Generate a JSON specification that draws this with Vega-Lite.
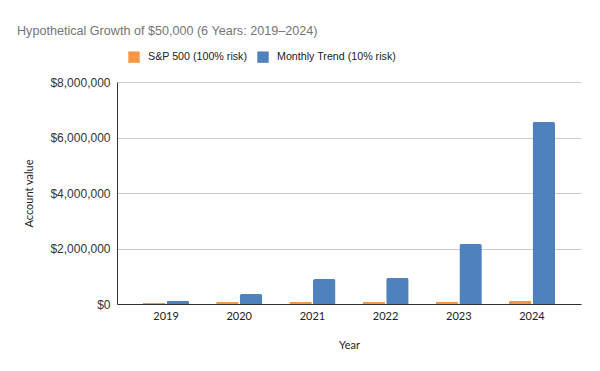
{
  "$schema": "https://vega.github.io/schema/vega-lite/v6.json",
  "width": 464,
  "height": 222,
  "autosize": {"type": "none"},
  "padding": {"left": 117, "top": 82, "right": 19, "bottom": 67},
  "background": "white",
  "title": {
    "text": "Hypothetical Growth of $50,000 (6 Years: 2019–2024)",
    "anchor": "start",
    "frame": "group",
    "dx": -100,
    "offset": 13,
    "font": "Liberation Sans",
    "fontSize": 12.6,
    "fontWeight": "normal",
    "color": "#757575"
  },
  "data": {
    "values": [
      {"year": "2019", "series": "S&P 500 (100% risk)", "value": 40000},
      {"year": "2019", "series": "Monthly Trend (10% risk)", "value": 110000},
      {"year": "2020", "series": "S&P 500 (100% risk)", "value": 78000},
      {"year": "2020", "series": "Monthly Trend (10% risk)", "value": 360000},
      {"year": "2021", "series": "S&P 500 (100% risk)", "value": 85000},
      {"year": "2021", "series": "Monthly Trend (10% risk)", "value": 900000},
      {"year": "2022", "series": "S&P 500 (100% risk)", "value": 82000},
      {"year": "2022", "series": "Monthly Trend (10% risk)", "value": 940000},
      {"year": "2023", "series": "S&P 500 (100% risk)", "value": 90000},
      {"year": "2023", "series": "Monthly Trend (10% risk)", "value": 2160000},
      {"year": "2024", "series": "S&P 500 (100% risk)", "value": 115000},
      {"year": "2024", "series": "Monthly Trend (10% risk)", "value": 6560000}
    ]
  },
  "mark": {"type": "bar", "cornerRadiusTopLeft": 2, "cornerRadiusTopRight": 2},
  "encoding": {
    "x": {
      "field": "year",
      "type": "nominal",
      "title": "Year",
      "scale": {"paddingInner": 0.37, "paddingOuter": 0.355},
      "axis": {
        "labelAngle": 0,
        "labelFont": "Lato",
        "labelFontSize": 11,
        "labelColor": "#222222",
        "labelPadding": 6,
        "ticks": false,
        "domainColor": "#333333",
        "titleFont": "Lato",
        "titleFontSize": 11,
        "titleFontWeight": "normal",
        "titleColor": "#222222",
        "titlePadding": 18
      }
    },
    "xOffset": {
      "field": "series",
      "type": "nominal",
      "sort": ["S&P 500 (100% risk)", "Monthly Trend (10% risk)"],
      "scale": {"paddingInner": 0.05}
    },
    "y": {
      "field": "value",
      "type": "quantitative",
      "title": "Account value",
      "scale": {"domain": [0, 8000000], "nice": false},
      "axis": {
        "values": [0, 2000000, 4000000, 6000000, 8000000],
        "format": "$,.0f",
        "labelFont": "Liberation Sans",
        "labelFontSize": 12,
        "labelColor": "#333333",
        "labelPadding": 7,
        "ticks": false,
        "domain": true,
        "domainColor": "#333333",
        "gridColor": "#cccccc",
        "titleFont": "Lato",
        "titleFontSize": 11,
        "titleFontWeight": "normal",
        "titleColor": "#222222",
        "titlePadding": 15
      }
    },
    "color": {
      "field": "series",
      "type": "nominal",
      "sort": ["S&P 500 (100% risk)", "Monthly Trend (10% risk)"],
      "scale": {
        "domain": ["S&P 500 (100% risk)", "Monthly Trend (10% risk)"],
        "range": ["#F79646", "#4F81BD"]
      },
      "legend": {
        "title": null,
        "orient": "none",
        "direction": "horizontal",
        "legendX": 11,
        "legendY": -31,
        "symbolType": "square",
        "symbolSize": 130,
        "symbolStrokeWidth": 0,
        "labelFont": "Liberation Sans",
        "labelFontSize": 10.7,
        "labelColor": "#222222",
        "labelOffset": 8,
        "columnPadding": 9
      }
    }
  },
  "config": {"view": {"stroke": null}}
}
